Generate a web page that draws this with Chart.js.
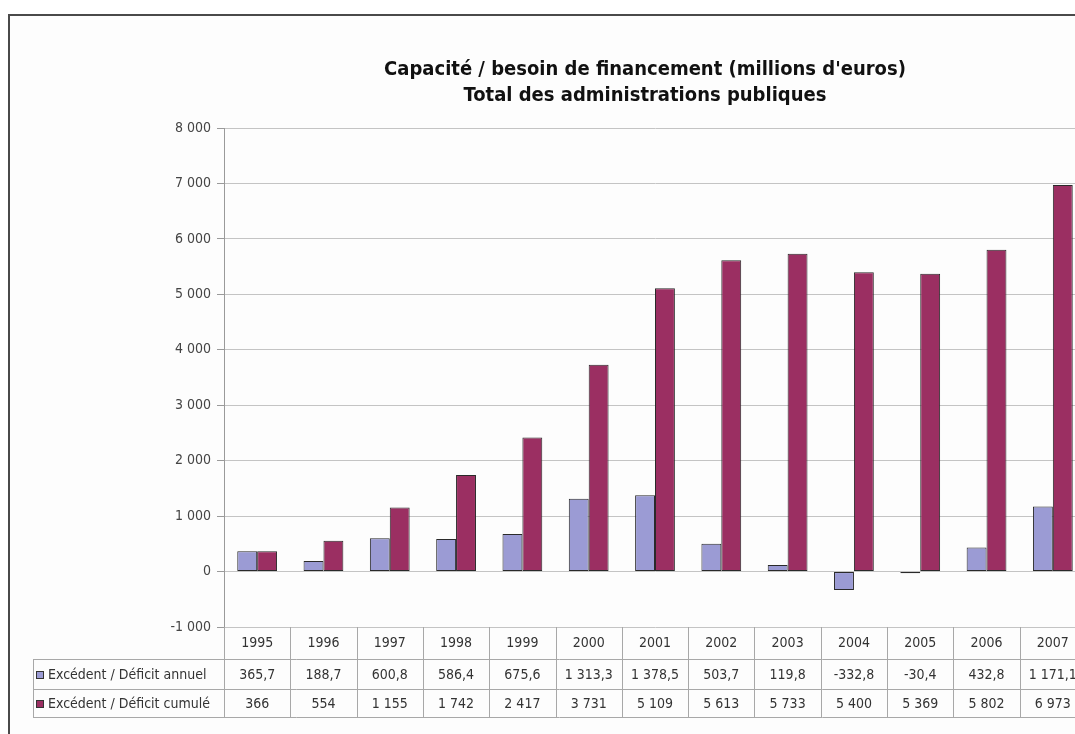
<!DOCTYPE html>
<html lang="fr">
<head>
<meta charset="utf-8">
<title>Capacité / besoin de financement</title>
<script src="https://cdn.jsdelivr.net/npm/chart.js@4.4.1/dist/chart.umd.min.js"></script>
<style>
  html, body { margin: 0; padding: 0; background: #fff; overflow: hidden; }
  body { width: 1075px; height: 734px; position: relative; }
  #frame {
    position: absolute; left: 8px; top: 14px; width: 1200px; height: 800px;
    border-top: 2px solid #4a4a4a; border-left: 2px solid #4a4a4a;
    background: #fdfdfd;
  }
  #wrap { position: absolute; left: 0; top: 0; width: 1100px; height: 734px; }
</style>
</head>
<body>
<div id="frame"></div>
<div id="wrap"><canvas id="chart" width="1100" height="734"></canvas></div>
<script>
const years = ['1995', '1996', '1997', '1998', '1999', '2000', '2001', '2002', '2003', '2004', '2005', '2006', '2007'];
const annuel = [365.7, 188.7, 600.8, 586.4, 675.6, 1313.3, 1378.5, 503.7, 119.8, -332.8, -30.4, 432.8, 1171.1];
const cumule = [366, 554, 1155, 1742, 2417, 3731, 5109, 5613, 5733, 5400, 5369, 5802, 6973];
const seriesNames = ['Excédent / Déficit annuel', 'Excédent / Déficit cumulé'];
const titleLines = ['Capacité / besoin de financement (millions d\'euros)', 'Total des administrations publiques'];

const FONT = '"Liberation Sans Narrow", "DejaVu Sans Condensed", "Arial Narrow", sans-serif';
const colAnnuel = '#9b9bd4';
const colCumule = '#9b2f62';

// french style numbers: "1 313,3", "-1 000"
function frNum(v, dec) {
  const neg = v < 0;
  let s = Math.abs(v).toFixed(dec);
  let [ip, dp] = s.split('.');
  ip = ip.replace(/\B(?=(\d{3})+(?!\d))/g, ' ');
  return (neg ? '-' : '') + ip + (dp ? ',' + dp : '');
}

// title + data table under the plot
const tablePlugin = {
  id: 'dataTable',
  afterDraw(chart) {
    const ctx = chart.ctx;
    const area = chart.chartArea;
    const n = years.length;
    const colW = (area.right - area.left) / n;
    const legLeft = 33;
    const rows = [area.bottom, 659, 689, 717];

    ctx.save();
    // title
    ctx.fillStyle = '#111';
    ctx.textAlign = 'center';
    ctx.textBaseline = 'middle';
    ctx.font = 'bold 20px ' + FONT;
    ctx.fillText(titleLines[0], 645, 70);
    ctx.fillText(titleLines[1], 645, 96);

    // grid of the table
    ctx.strokeStyle = '#a8a8a8';
    ctx.lineWidth = 1;
    ctx.beginPath();
    for (let r = 1; r < rows.length; r++) {
      ctx.moveTo(legLeft, rows[r] + 0.5);
      ctx.lineTo(area.right, rows[r] + 0.5);
    }
    ctx.moveTo(legLeft + 0.5, rows[1]);
    ctx.lineTo(legLeft + 0.5, rows[3]);
    for (let i = 0; i <= n; i++) {
      const x = Math.round(area.left + i * colW) + 0.5;
      ctx.moveTo(x, rows[0]);
      ctx.lineTo(x, rows[3]);
    }
    ctx.stroke();

    // years and values
    ctx.fillStyle = '#333';
    ctx.font = '14px ' + FONT;
    const xs = chart.scales.x;
    years.forEach((y, i) => {
      const cx = xs.getPixelForValue(i);
      ctx.fillText(y, cx, (rows[0] + rows[1]) / 2);
      ctx.fillText(frNum(annuel[i], 1), cx, (rows[1] + rows[2]) / 2 + 1);
      ctx.fillText(frNum(cumule[i], 0), cx, (rows[2] + rows[3]) / 2 + 1);
    });

    // legend keys in the first column
    ctx.textAlign = 'left';
    const keys = [colAnnuel, colCumule];
    seriesNames.forEach((name, k) => {
      const cy = (rows[k + 1] + rows[k + 2]) / 2 + 1;
      ctx.fillStyle = keys[k];
      ctx.fillRect(36, cy - 4, 8, 8);
      ctx.strokeStyle = '#333';
      ctx.strokeRect(36.5, cy - 3.5, 7, 7);
      ctx.fillStyle = '#333';
      ctx.fillText(name, 48, cy);
    });
    ctx.restore();
  }
};

new Chart(document.getElementById('chart'), {
  type: 'bar',
  data: {
    labels: years,
    datasets: [
      { label: seriesNames[0], data: annuel, backgroundColor: colAnnuel, borderColor: '#2a2a2a', borderWidth: 1, borderSkipped: false },
      { label: seriesNames[1], data: cumule, backgroundColor: colCumule, borderColor: '#2a2a2a', borderWidth: 1, borderSkipped: false }
    ]
  },
  options: {
    responsive: false,
    animation: false,
    layout: { padding: { left: 0, right: 14, top: 128, bottom: 107 } },
    datasets: { bar: { categoryPercentage: 0.6, barPercentage: 1.0 } },
    plugins: { legend: { display: false }, tooltip: { enabled: false } },
    scales: {
      x: { display: false, grid: { display: false } },
      y: {
        min: -1000, max: 8000,
        afterFit(scale) { scale.width = 224; },
        ticks: {
          stepSize: 1000,
          color: '#444',
          font: { family: FONT, size: 14 },
          padding: 6,
          callback: v => frNum(v, 0)
        },
        grid: { color: '#c4c4c4', tickLength: 7, tickColor: '#9a9a9a' },
        border: { color: '#9a9a9a' }
      }
    }
  },
  plugins: [tablePlugin]
});
</script>
</body>
</html>
